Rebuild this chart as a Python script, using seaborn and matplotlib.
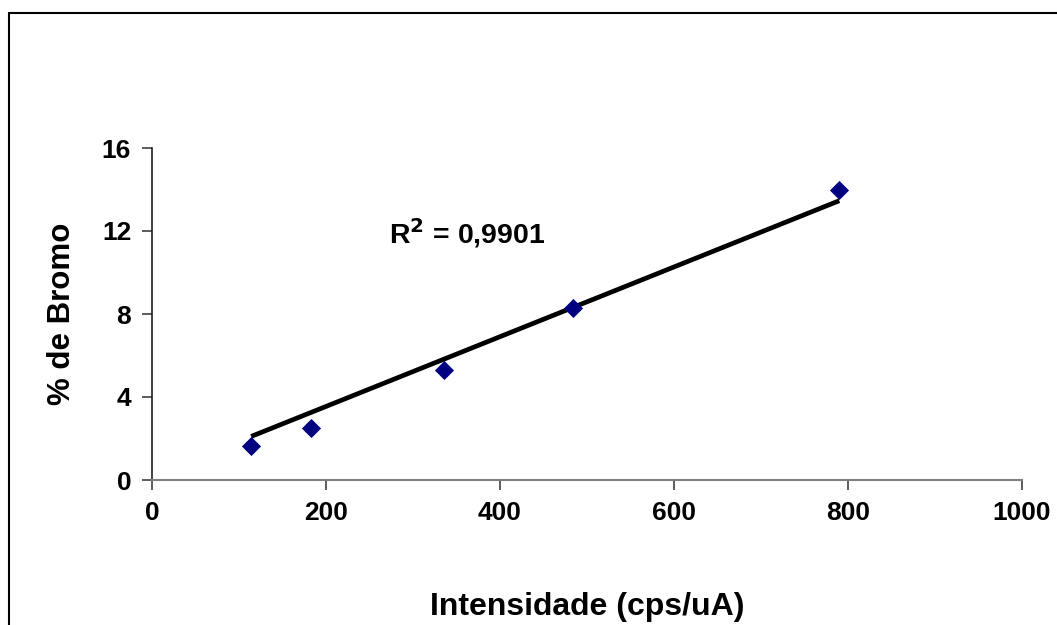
import numpy as np
import pandas as pd
import matplotlib
matplotlib.use("Agg")
import matplotlib.pyplot as plt
from matplotlib.patches import Rectangle
import seaborn as sns

# Data
intensidade = [114, 183, 336, 484, 790]
bromo = [1.64, 2.5, 5.3, 8.3, 13.98]
# Trendline as drawn in the reference (endpoints)
trend_x = [114, 790]
trend_y = [2.1, 13.46]
x_ticks = [0, 200, 400, 600, 800, 1000]
y_ticks = [0, 4, 8, 12, 16]
r2_text = "R$^2$ = 0,9901"

df = pd.DataFrame({"Intensidade": intensidade, "Bromo": bromo})
trend = pd.DataFrame({"Intensidade": trend_x, "Bromo": trend_y})

sns.set_theme(style="white")
plt.rcParams['font.family'] = ['Liberation Sans', 'DejaVu Sans']
plt.rcParams['font.weight'] = 'bold'
plt.rcParams['text.color'] = 'black'
plt.rcParams['axes.labelcolor'] = 'black'
plt.rcParams['xtick.color'] = 'black'
plt.rcParams['ytick.color'] = 'black'
plt.rcParams['mathtext.default'] = 'bf'

fig = plt.figure(figsize=(10.57, 6.25), dpi=100)
ax = fig.add_axes([152/1057, (625-480)/625, (1022-152)/1057, (480-148)/625])

sns.lineplot(data=trend, x="Intensidade", y="Bromo", ax=ax, color="black",
             lw=3.4, solid_capstyle="butt", zorder=3)
sns.scatterplot(data=df, x="Intensidade", y="Bromo", ax=ax, marker="D", s=95,
                color="#000080", edgecolor="#000080", linewidth=0, zorder=5)

ax.set_xlim(0, 1000)
ax.set_ylim(0, 16)
ax.set_xticks(x_ticks)
ax.set_yticks(y_ticks)
ax.tick_params(axis="both", which="major", direction="out", length=7, width=1.2,
               color="#404040", labelcolor="black", labelsize=19, pad=8,
               bottom=True, left=True)
for lab in ax.get_xticklabels() + ax.get_yticklabels():
    lab.set_fontweight("bold")

for s in ["top", "right"]:
    ax.spines[s].set_visible(False)
ax.spines["bottom"].set_color("#808080")
ax.spines["bottom"].set_linewidth(1.5)
ax.spines["left"].set_color("#202020")
ax.spines["left"].set_linewidth(1.2)

ax.set_xlabel("Intensidade (cps/uA)", fontsize=23, fontweight="bold", labelpad=48,
              color="black")
ax.set_ylabel("% de Bromo", fontsize=22.5, fontweight="bold", labelpad=18,
              color="black")

ax.text(272, 11.4, r2_text, fontsize=20.5, fontweight="bold", va="baseline",
        ha="left", color="black")

fig.patches.append(Rectangle((9/1057, -0.2), 1.2, 1.2 - 13/625,
                             transform=fig.transFigure, fill=False, lw=1.5,
                             edgecolor="black", clip_on=False))

fig.savefig("out.png", dpi=100, facecolor="white")
